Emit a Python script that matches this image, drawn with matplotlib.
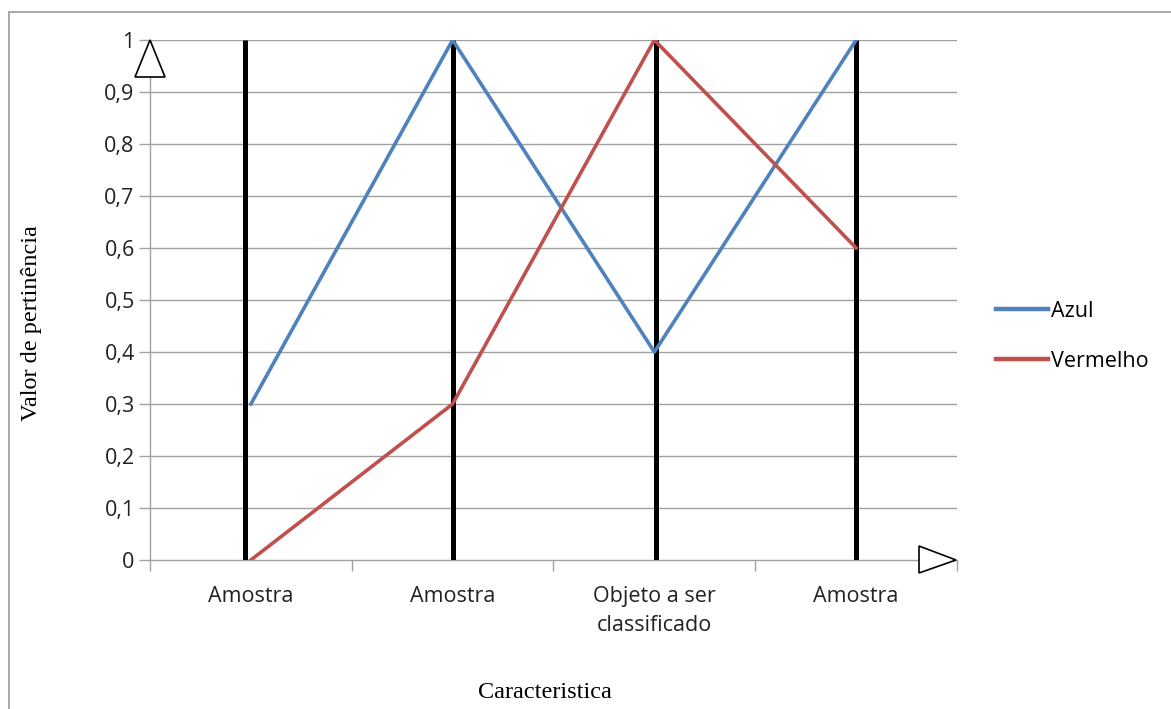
import numpy as np
import matplotlib.pyplot as plt
from matplotlib.patches import Polygon, Rectangle

categorias = ["Amostra", "Amostra", "Objeto a ser\nclassificado", "Amostra"]
azul = [0.3, 1.0, 0.4, 1.0]
vermelho = [0.0, 0.3, 1.0, 0.6]
y_ticks = [0, 0.1, 0.2, 0.3, 0.4, 0.5, 0.6, 0.7, 0.8, 0.9, 1]
y_labels = ["0", "0,1", "0,2", "0,3", "0,4", "0,5", "0,6", "0,7", "0,8", "0,9", "1"]
# deslocamento das barras pretas em relacao ao centro da categoria
desloc = [-0.03, 0.0, 0.01, 0.0]

W, H = 1171, 709
fig = plt.figure(figsize=(W / 100, H / 100), dpi=100)
ax = fig.add_axes([150 / W, 1 - 560 / H, 807 / W, 520 / H])

x = np.arange(len(categorias))
cinza = "#A0A0A0"
fonte = "Open Sans"

for yv in y_ticks[1:]:
    ax.axhline(yv, color=cinza, lw=1.0, zorder=1)

for xi, d in zip(x, desloc):
    ax.plot([xi + d, xi + d], [0, 1], color="black", lw=3.6, zorder=3,
            solid_capstyle="butt")

ax.plot(x, azul, color="#4F81BD", lw=2.6, label="Azul", zorder=4)
ax.plot(x, vermelho, color="#C0504D", lw=2.6, label="Vermelho", zorder=4)

ax.set_xlim(-0.5, len(categorias) - 0.5)
ax.set_ylim(0, 1)
ax.set_xticks(x)
ax.set_xticklabels(categorias, fontsize=15.5, family=fonte, color="#222222",
                   linespacing=1.45)
ax.set_xticks(np.arange(-0.5, len(categorias), 1.0), minor=True)
ax.tick_params(axis="x", which="major", length=0, pad=19)
ax.tick_params(axis="x", which="minor", length=8, color=cinza, width=1)
ax.set_yticks(y_ticks)
ax.set_yticklabels(y_labels, fontsize=15.5, family=fonte, color="#222222")
ax.tick_params(axis="y", length=8, color=cinza, width=1, pad=3)

for s in ["top", "right"]:
    ax.spines[s].set_visible(False)
for s in ["left", "bottom"]:
    ax.spines[s].set_color(cinza)
    ax.spines[s].set_linewidth(1)

ax.set_ylabel("Valor de pertinência", family="Liberation Serif", fontsize=17.5,
              labelpad=0)
ax.yaxis.set_label_coords(-108 / 807, 0.455)
ax.set_xlabel("Caracteristica", family="Liberation Serif", fontsize=17.5)
ax.xaxis.set_label_coords(0.49, -122 / 520)

leg = ax.legend(loc="center left", bbox_to_anchor=(1.024, 0.43), frameon=False,
                prop={"family": fonte, "size": 15.5}, handlelength=2.45,
                handletextpad=0.1, labelspacing=1.35)
for h in leg.get_lines():
    h.set_linewidth(3.2)

def px(xp, yp):
    return (xp / W, 1 - yp / H)

seta_y = Polygon([px(150, 40), px(135, 77), px(165, 77)], closed=True,
                 facecolor="white", edgecolor="black", lw=1.2,
                 transform=fig.transFigure, zorder=6)
seta_x = Polygon([px(919, 546), px(919, 573), px(956, 560)], closed=True,
                 facecolor="white", edgecolor="black", lw=1.2,
                 transform=fig.transFigure, zorder=6)
fig.patches.extend([seta_y, seta_x])

x0, y0 = px(9, 720)
moldura = Rectangle((x0, y0), 1.2, (1 - 12 / H) - y0, transform=fig.transFigure,
                    fill=False, edgecolor="#999999", lw=1.2)
fig.patches.append(moldura)

fig.savefig("out.png", dpi=100)
